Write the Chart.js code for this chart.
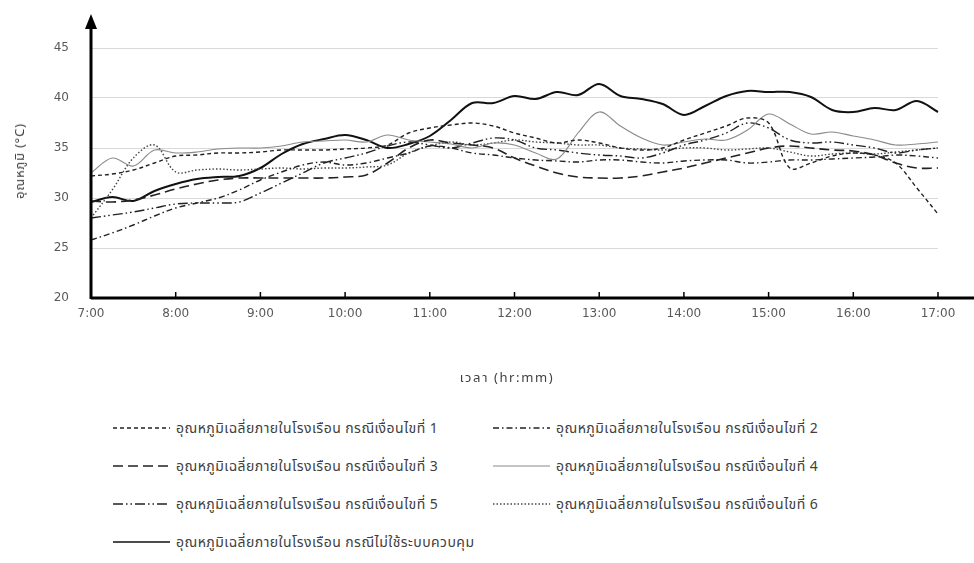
<!DOCTYPE html>
<html>
<head>
<meta charset="utf-8">
<script src="https://cdn.jsdelivr.net/npm/chart.js@4.4.1/dist/chart.umd.min.js"></script>
<style>
  html,body{margin:0;padding:0;background:#fff;}
  #wrap{position:relative;width:974px;height:563px;overflow:hidden;font-family:Tahoma,"Noto Sans Thai","DejaVu Sans",sans-serif;color:#404040;}
  #cv{position:absolute;left:0;top:0;}
  .t{position:absolute;white-space:nowrap;font-size:13px;letter-spacing:0.8px;}
  #ytitle{left:20px;top:161px;transform:translate(-50%,-50%) rotate(-90deg);}
  #xtitle{left:507px;top:378px;transform:translate(-50%,-50%);letter-spacing:1.6px;}
  .lg{position:absolute;height:18px;display:flex;align-items:center;font-size:14px;letter-spacing:0.45px;white-space:nowrap;}
  .lg svg{margin-right:6px;}
</style>
</head>
<body>
<div id="wrap">
  <canvas id="cv" width="974" height="400"></canvas>
  <div class="t" id="ytitle">อุณหภูมิ (°C)</div>
  <div class="t" id="xtitle">เวลา (hr:mm)</div>
  <div id="legend"></div>
</div>
<script>
const times = ['7:00','7:15','7:30','7:45','8:00','8:15','8:30','8:45','9:00','9:15','9:30','9:45',
  '10:00','10:15','10:30','10:45','11:00','11:15','11:30','11:45','12:00','12:15','12:30','12:45',
  '13:00','13:15','13:30','13:45','14:00','14:15','14:30','14:45','15:00','15:15','15:30','15:45',
  '16:00','16:15','16:30','16:45','17:00'];
const hourLabels = ['7:00','8:00','9:00','10:00','11:00','12:00','13:00','14:00','15:00','16:00','17:00'];
const yTicks = [20,25,30,35,40,45];

const seriesNames = [
  'อุณหภูมิเฉลี่ยภายในโรงเรือน กรณีเงื่อนไขที่ 1',
  'อุณหภูมิเฉลี่ยภายในโรงเรือน กรณีเงื่อนไขที่ 2',
  'อุณหภูมิเฉลี่ยภายในโรงเรือน กรณีเงื่อนไขที่ 3',
  'อุณหภูมิเฉลี่ยภายในโรงเรือน กรณีเงื่อนไขที่ 4',
  'อุณหภูมิเฉลี่ยภายในโรงเรือน กรณีเงื่อนไขที่ 5',
  'อุณหภูมิเฉลี่ยภายในโรงเรือน กรณีเงื่อนไขที่ 6',
  'อุณหภูมิเฉลี่ยภายในโรงเรือน กรณีไม่ใช้ระบบควบคุม'
];

const case1 = [32.2,32.4,32.8,33.5,34.2,34.3,34.5,34.5,34.6,34.8,34.8,34.8,34.9,35.0,35.3,36.5,37.0,37.3,37.5,37.2,36.5,36.0,35.5,35.8,35.5,35.0,34.8,35.0,35.8,36.5,37.2,38.0,37.5,33.0,33.5,34.2,34.5,34.3,33.5,31.0,28.4];
const case2 = [25.8,26.5,27.3,28.2,29.0,29.5,30.0,30.8,31.8,32.6,33.3,33.6,33.3,33.5,34.0,34.5,35.2,35.0,34.5,34.3,34.0,33.8,33.7,33.6,33.8,33.8,33.6,33.5,33.7,33.8,33.8,33.5,33.6,33.8,33.8,33.9,34.0,34.1,34.3,34.2,34.0];
const case3 = [29.7,29.6,29.8,30.3,30.9,31.4,31.8,32.0,32.0,32.0,32.0,32.0,32.1,32.3,33.5,35.0,35.8,35.5,35.3,35.0,34.0,33.2,32.5,32.1,32.0,32.0,32.2,32.6,33.0,33.5,34.0,34.5,35.0,35.2,35.0,34.8,34.7,34.3,33.5,33.0,33.0];
const case4 = [32.5,34.0,33.2,34.8,34.5,34.6,34.9,35.0,35.0,35.2,35.6,35.7,35.8,35.6,36.3,35.8,35.6,35.4,35.0,35.5,35.3,34.5,33.9,36.5,38.6,37.2,36.0,35.3,35.6,35.9,35.8,36.8,38.4,37.4,36.4,36.6,36.2,35.8,35.3,35.4,35.6];
const case5 = [28.0,28.3,28.6,29.0,29.4,29.5,29.5,29.6,30.5,31.5,32.5,33.5,34.0,34.5,35.2,35.6,35.3,35.0,35.5,36.0,35.8,35.0,34.8,34.5,34.3,34.2,34.0,34.5,35.3,35.8,36.5,37.5,37.0,35.8,35.5,35.6,35.3,35.0,34.5,34.8,35.0];
const case6 = [28.0,30.8,34.0,35.3,32.6,32.8,32.9,32.8,32.9,33.0,32.9,33.0,33.0,33.1,33.3,34.5,35.2,35.6,35.3,35.5,35.8,35.6,35.5,35.3,35.3,35.0,34.9,34.8,35.0,35.0,34.8,34.9,35.0,34.6,34.2,34.4,34.5,34.4,34.6,34.8,35.0];
const noControl = [29.6,30.1,29.7,30.7,31.4,31.9,32.1,32.2,33.0,34.4,35.4,35.9,36.3,35.8,35.0,35.4,36.2,37.8,39.5,39.5,40.2,39.9,40.6,40.3,41.4,40.2,39.9,39.4,38.3,39.2,40.2,40.7,40.6,40.6,40.1,38.8,38.6,39.0,38.8,39.7,38.6];

const styles = [
  {color:'#222', width:1.4, dash:[4,3]},
  {color:'#222', width:1.4, dash:[6,3,1.5,3]},
  {color:'#222', width:1.6, dash:[10,5]},
  {color:'#8a8a8a', width:1.1, dash:[]},
  {color:'#222', width:1.4, dash:[10,3,1.5,3,1.5,3]},
  {color:'#444', width:1.4, dash:[1.5,2]},
  {color:'#111', width:2, dash:[]}
];
const allData = [case1,case2,case3,case4,case5,case6,noControl];

const axisPlugin = {
  id:'axes',
  afterDraw(chart){
    const {ctx, chartArea:a, scales:{x,y}} = chart;
    ctx.save();
    ctx.strokeStyle='#000'; ctx.fillStyle='#000'; ctx.lineWidth=3; ctx.setLineDash([]);
    const y0 = y.getPixelForValue(20);
    ctx.beginPath(); ctx.moveTo(a.left, y0); ctx.lineTo(974, y0); ctx.stroke();
    ctx.beginPath(); ctx.moveTo(a.left, y0+1); ctx.lineTo(a.left, 26); ctx.stroke();
    ctx.beginPath(); ctx.moveTo(a.left, 14); ctx.lineTo(a.left-6, 29); ctx.lineTo(a.left+6, 29); ctx.closePath(); ctx.fill();
    ctx.lineWidth=1.5;
    hourLabels.forEach(h=>{
      const px = x.getPixelForValue(times.indexOf(h));
      ctx.beginPath(); ctx.moveTo(px, y0); ctx.lineTo(px, y0-6); ctx.stroke();
    });
    ctx.restore();
  }
};

new Chart(document.getElementById('cv'), {
  type:'line',
  data:{
    labels: times,
    datasets: allData.map((d,i)=>({
      label: seriesNames[i], data:d,
      borderColor: styles[i].color, borderWidth: styles[i].width, borderDash: styles[i].dash,
      pointRadius:0, tension:0.35, fill:false
    }))
  },
  options:{
    responsive:false, animation:false,
    layout:{padding:{top:48, right:36, left:0, bottom:0}},
    plugins:{legend:{display:false}, tooltip:{enabled:false}},
    scales:{
      x:{
        type:'category', offset:false,
        grid:{display:false, drawTicks:false}, border:{display:false},
        ticks:{autoSkip:false, maxRotation:0, padding:9, color:'#595959', font:{family:'Tahoma, "DejaVu Sans", sans-serif', size:12},
          callback(v){ const l = times[v]; return hourLabels.includes(l) ? l : ''; }},
        afterFit(s){ s.height = 102; }
      },
      y:{
        min:20, max:45,
        afterBuildTicks(s){ s.ticks = yTicks.map(v=>({value:v})); },
        grid:{color:'#d9d9d9', lineWidth:1, drawTicks:false}, border:{display:false},
        ticks:{padding:22, color:'#595959', font:{family:'Tahoma, "DejaVu Sans", sans-serif', size:12}},
        afterFit(s){ s.width = 91; }
      }
    }
  },
  plugins:[axisPlugin]
});

const legendPos = [
  {x:113,y:428},{x:493,y:428},
  {x:113,y:466},{x:493,y:466},
  {x:113,y:504},{x:493,y:504},
  {x:113,y:542}
];
const lg = document.getElementById('legend');
seriesNames.forEach((n,i)=>{
  const s = styles[i];
  const d = document.createElement('div');
  d.className='lg';
  d.style.left = legendPos[i].x+'px';
  d.style.top = (legendPos[i].y-9)+'px';
  d.innerHTML = `<svg width="57" height="4"><line x1="0" y1="2" x2="57" y2="2" stroke="${s.color}" stroke-width="${Math.min(s.width,1.3)}" stroke-dasharray="${s.dash.join(',')}"/></svg><span>${n}</span>`;
  lg.appendChild(d);
});
</script>
</body>
</html>
